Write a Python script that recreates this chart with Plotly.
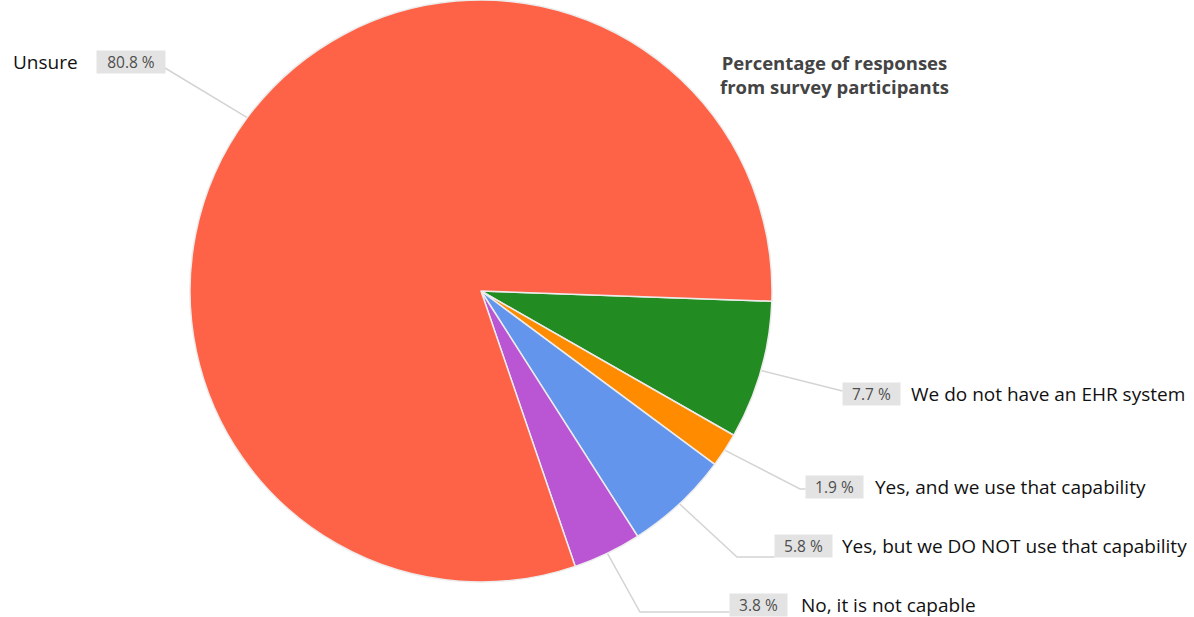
import math
import plotly.graph_objects as go

# Survey responses (percent of participants)
categories = [
    "We do not have an EHR system",
    "Yes, and we use that capability",
    "Yes, but we DO NOT use that capability",
    "No, it is not capable",
    "Unsure",
]
values = [7.7, 1.9, 5.8, 3.8, 80.8]
pct_labels = ["7.7 %", "1.9 %", "5.8 %", "3.8 %", "80.8 %"]
colors = ["#228B22", "#FF8C00", "#6495ED", "#BA55D3", "#FF6347"]

W, H = 1194, 617
ROTATION = 92  # degrees clockwise from 12 o'clock where the first slice starts

# pie placement in pixels
cx, cy, r = 481, 291, 291
dom_x = [(cx - r) / W, (cx + r) / W]
dom_y = [1 - (cy + r) / H, 1 - (cy - r) / H]

fig = go.Figure(go.Pie(
    labels=categories,
    values=values,
    sort=False,
    direction="clockwise",
    rotation=ROTATION,
    marker=dict(colors=colors, line=dict(color="#ececec", width=1.5)),
    textinfo="none",
    hoverinfo="label+percent",
    showlegend=False,
    domain=dict(x=dom_x, y=dom_y),
))


def px(x, y):
    return x / W, 1 - y / H


def edge_point(i):
    """Point on the pie rim at the middle of slice i."""
    total = sum(values)
    start = sum(values[:i]) / total * 360
    mid = math.radians(ROTATION + start + values[i] / total * 180)
    return cx + r * math.sin(mid), cy - r * math.cos(mid)


# label layout: (percent box centre x, centre y, category text left x, leader elbow or None)
label_layout = [
    (871, 394, 909, None),
    (834, 487, 873, (800, 489)),
    (803, 546, 840, (737, 557)),
    (758, 605, 799, (640, 612)),
    (131, 62, 11, None),
]

shapes = []
annotations = []
for i, (bx, by, tx, elbow) in enumerate(label_layout):
    ex, ey = edge_point(i)
    box_w = 68 if len(pct_labels[i]) > 5 else 57
    half_w = box_w / 2
    if i == 4:
        end = (bx + half_w, by + 6)
    elif elbow is None:
        end = (bx - half_w, by - 3)
    else:
        end = (bx - half_w, elbow[1])
    pts = [(ex, ey)] + ([elbow] if elbow else []) + [end]
    path = "M " + " L ".join(f"{px(a, b)[0]:.5f},{px(a, b)[1]:.5f}" for a, b in pts)
    shapes.append(dict(type="path", xref="paper", yref="paper", path=path,
                       line=dict(color="#d4d4d4", width=1.5), layer="below"))

    pxx, pyy = px(bx, by)
    annotations.append(dict(
        x=pxx, y=pyy, xref="paper", yref="paper", xanchor="center", yanchor="middle",
        text=pct_labels[i], showarrow=False, bgcolor="#e3e3e3", borderpad=0,
        width=box_w, height=22,
        font=dict(family="Open Sans, Arial", size=15.5, color="#4e4e4e"),
    ))
    lx, ly = px(tx, by)
    annotations.append(dict(
        x=lx, y=ly, xref="paper", yref="paper", xanchor="left", yanchor="middle",
        text=categories[i], showarrow=False,
        font=dict(family="Open Sans, Arial", size=19, color="#111111"),
    ))

tx, ty = px(834, 74)
annotations.append(dict(
    x=tx, y=ty, xref="paper", yref="paper", xanchor="center", yanchor="middle",
    text="<b>Percentage of responses<br>from survey participants</b>", showarrow=False,
    align="center", font=dict(family="Open Sans, Arial", size=18.5, color="#444444"),
))

fig.update_layout(
    width=W, height=H,
    margin=dict(l=0, r=0, t=0, b=0),
    paper_bgcolor="white",
    plot_bgcolor="white",
    shapes=shapes,
    annotations=annotations,
)

fig.write_html("out.html")
